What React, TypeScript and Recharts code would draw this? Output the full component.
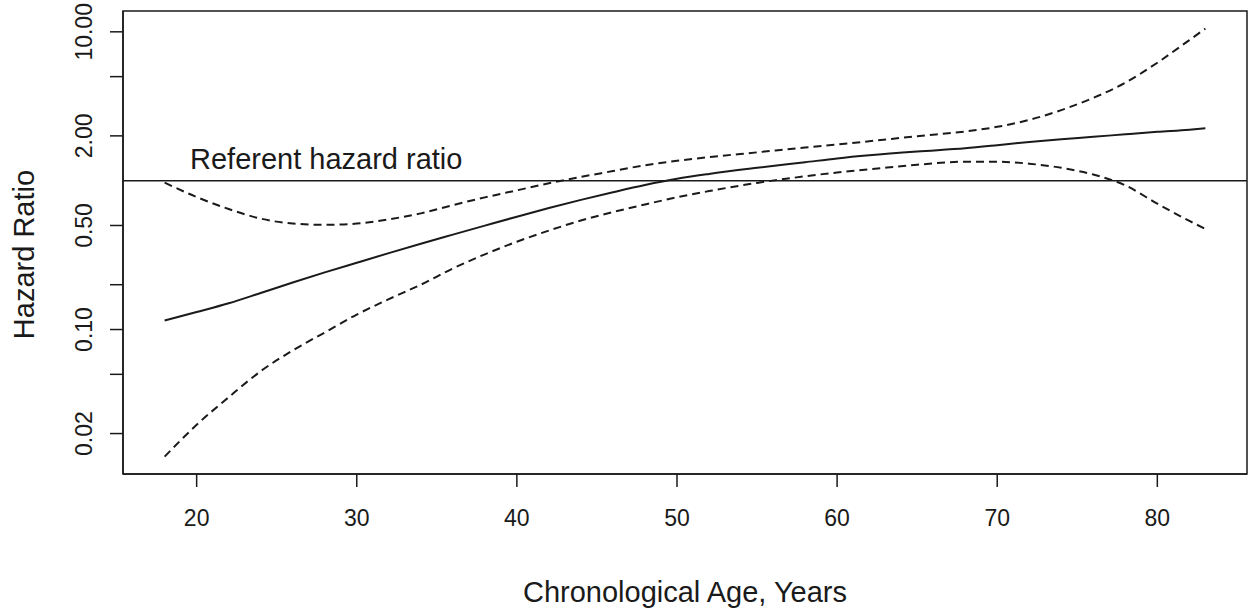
import React from "react";
import { LineChart, Line, XAxis, YAxis, ReferenceLine, ReferenceArea } from "recharts";

// values (hazard ratio, log scale)
const AGES = [18, 20, 22, 24, 26, 28, 30, 32, 34, 36, 38, 40, 42, 44, 46, 48, 50, 52, 55, 58, 60, 62, 65, 68, 70, 72, 74, 76, 78, 80, 82, 83];
const HR = [0.115, 0.131, 0.15, 0.176, 0.207, 0.242, 0.281, 0.326, 0.377, 0.434, 0.499, 0.573, 0.655, 0.743, 0.836, 0.935, 1.03, 1.11, 1.22, 1.33, 1.41, 1.48, 1.57, 1.65, 1.73, 1.82, 1.9, 1.97, 2.05, 2.13, 2.2, 2.25];
const UPPER = [0.97, 0.776, 0.645, 0.556, 0.515, 0.505, 0.515, 0.55, 0.603, 0.685, 0.772, 0.861, 0.96, 1.06, 1.16, 1.27, 1.36, 1.44, 1.55, 1.67, 1.75, 1.84, 1.99, 2.14, 2.3, 2.56, 2.98, 3.6, 4.55, 6.2, 8.8, 10.5];
const LOWER = [0.014, 0.0229, 0.0351, 0.0525, 0.0724, 0.0955, 0.126, 0.16, 0.2, 0.257, 0.32, 0.389, 0.462, 0.54, 0.615, 0.692, 0.773, 0.851, 0.966, 1.07, 1.135, 1.19, 1.28, 1.34, 1.34, 1.3, 1.22, 1.1, 0.93, 0.7, 0.537, 0.474];

const X_TICKS = [20, 30, 40, 50, 60, 70, 80];
const Y_TICKS = [0.02, 0.05, 0.1, 0.2, 0.5, 2, 5, 10];
const Y_LABELLED = [0.02, 0.1, 0.5, 2, 10];

const X_DOMAIN = [15.4, 85.6];
const Y_DOMAIN = [0.0107, 13.8];

const FONT = "'Liberation Sans', Arial, sans-serif";
const INK = "#1a1a1a";

const rows = AGES.map((age, i) => ({ age, hr: HR[i], upper: UPPER[i], lower: LOWER[i] }));

const XTick = ({ x, y, payload }: any) => (
  <text x={x} y={y + 37} textAnchor="middle" fontSize={23} fontFamily={FONT} fill={INK}>
    {payload.value}
  </text>
);

const YTick = ({ x, y, payload }: any) => {
  if (!Y_LABELLED.includes(payload.value)) return <g />;
  const tx = x - 16;
  return (
    <text x={tx} y={y} transform={`rotate(-90, ${tx}, ${y})`} textAnchor="middle" fontSize={23} fontFamily={FONT} fill={INK}>
      {payload.value.toFixed(2)}
    </text>
  );
};

const YTitle = ({ viewBox }: any) => {
  const tx = viewBox.x + 34;
  const ty = viewBox.y + viewBox.height / 2 + 12;
  return (
    <text x={tx} y={ty} transform={`rotate(-90, ${tx}, ${ty})`} textAnchor="middle" fontSize={29} fontFamily={FONT} fill={INK}>
      Hazard Ratio
    </text>
  );
};

const RefLabel = ({ viewBox }: any) => (
  <text x={viewBox.x + 67} y={viewBox.y - 12} fontSize={29} fontFamily={FONT} fill={INK}>
    Referent hazard ratio
  </text>
);

export default function App() {
  return (
    <div style={{ position: "absolute", left: 0, top: 0, width: 1258, height: 613, background: "#fff" }}>
      <LineChart width={1258} height={613} data={rows} margin={{ top: 11, right: 11, bottom: 0, left: 0 }}>
        <XAxis
          dataKey="age"
          type="number"
          domain={X_DOMAIN}
          ticks={X_TICKS}
          allowDataOverflow
          height={139}
          axisLine={{ stroke: INK, strokeWidth: 1.5 }}
          tickLine={{ stroke: INK, strokeWidth: 1.5 }}
          tickSize={13}
          tick={<XTick />}
          label={{ value: "Chronological Age, Years", position: "insideBottom", offset: 11, fontSize: 29, fontFamily: FONT, fill: INK }}
        />
        <YAxis
          type="number"
          scale="log"
          domain={Y_DOMAIN}
          ticks={Y_TICKS}
          allowDataOverflow
          width={123}
          axisLine={{ stroke: INK, strokeWidth: 1.5 }}
          tickLine={{ stroke: INK, strokeWidth: 1.5 }}
          tickSize={13}
          tick={<YTick />}
          label={<YTitle />}
        />
        <ReferenceArea x1={X_DOMAIN[0]} x2={X_DOMAIN[1]} y1={Y_DOMAIN[0]} y2={Y_DOMAIN[1]} fill="none" stroke={INK} strokeWidth={1.5} ifOverflow="visible" />
        <ReferenceLine y={1} stroke={INK} strokeWidth={1.5} label={<RefLabel />} />
        <Line dataKey="upper" type="monotone" stroke={INK} strokeWidth={2} strokeDasharray="8 5" dot={false} isAnimationActive={false} />
        <Line dataKey="lower" type="monotone" stroke={INK} strokeWidth={2} strokeDasharray="8 5" dot={false} isAnimationActive={false} />
        <Line dataKey="hr" type="monotone" stroke={INK} strokeWidth={2} dot={false} isAnimationActive={false} />
      </LineChart>
    </div>
  );
}
